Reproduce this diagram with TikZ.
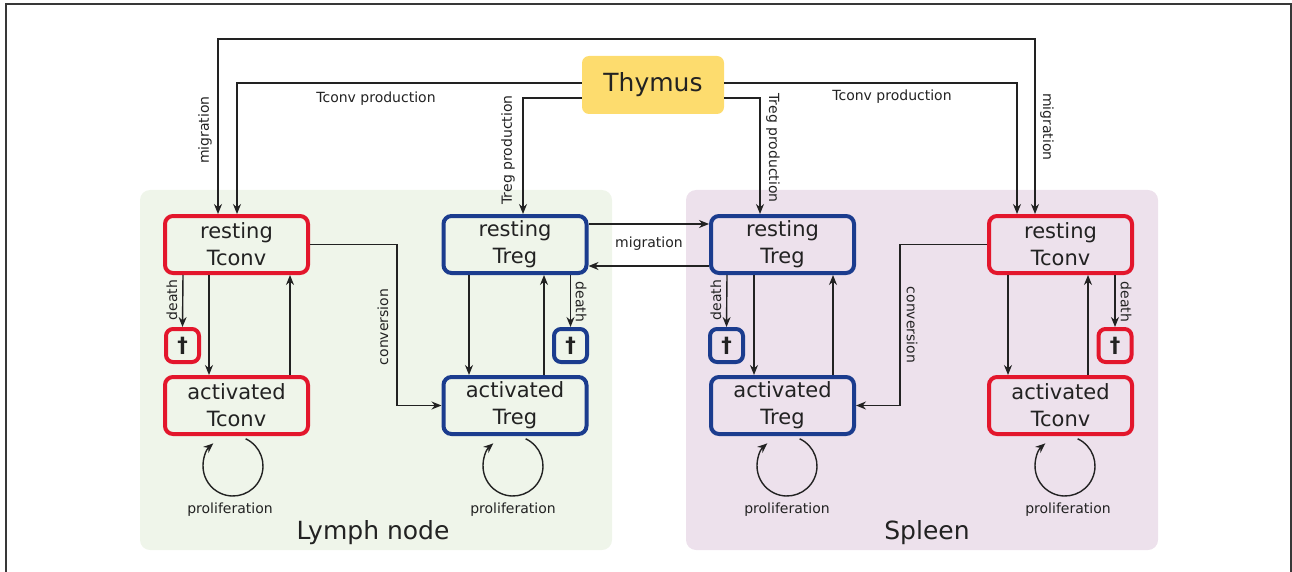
\documentclass[tikz,border=0pt]{standalone}
\usepackage{fontspec}
\setmainfont{DejaVu Sans}
\usetikzlibrary{arrows.meta}
\definecolor{cred}{HTML}{E3162C}
\definecolor{cblue}{HTML}{1B3C8E}
\definecolor{cgreen}{HTML}{EFF5EA}
\definecolor{cpurple}{HTML}{EDE1EC}
\definecolor{cyellow}{HTML}{FDDC6E}
\definecolor{cink}{HTML}{222222}
\tikzset{
 cell/.style={draw, line width=4pt, rounded corners=8pt, minimum width=143pt, minimum height=57pt, align=center, font=\fontsize{21}{27}\selectfont, text=cink, inner sep=0pt},
 redcell/.style={cell, draw=cred},
 bluecell/.style={cell, draw=cblue},
 dag/.style={draw, line width=4pt, rounded corners=7pt, minimum width=33pt, minimum height=33pt, inner sep=0pt, font=\fontsize{21}{21}\selectfont\bfseries, text=cink},
 arr/.style={draw=cink, line width=1.4pt, -{Stealth[length=10pt,width=8pt]}},
 arrboth/.style={draw=cink, line width=1.4pt, {Stealth[length=10pt,width=8pt]}-{Stealth[length=10pt,width=8pt]}},
 lbl/.style={font=\fontsize{14}{15}\selectfont, text=cink, inner sep=1pt},
 region/.style={rounded corners=10pt},
 big/.style={font=\fontsize{25}{28}\selectfont, text=cink, inner sep=0pt}
}
\begin{document}
\begin{tikzpicture}[x=1pt,y=-1pt]
\useasboundingbox (0,0) rectangle (1292,572);
% frame
\draw[line width=2pt, color=cink!90] (6,575) -- (6,4.5) -- (1290.5,4.5) -- (1290.5,575);
% regions
\fill[cgreen, region] (140,190) rectangle (612,550);
\fill[cpurple, region] (686,190) rectangle (1158,550);
\node[big] (lnname) at (373,533) {Lymph node};
\node[big] (spname) at (927,533) {Spleen};
% thymus
\node[fill=cyellow, rounded corners=7pt, minimum width=142pt, minimum height=58pt, inner sep=0pt, font=\fontsize{25}{28}\selectfont, text=cink] (thy) at (653,85) {Thymus};
% cells
\node[redcell] (lrc) at (236.5,244.5) {resting\\Tconv};
\node[redcell] (lac) at (236.5,405.5) {activated\\Tconv};
\node[bluecell] (lrg) at (515,244.5) {resting\\Treg};
\node[bluecell] (lag) at (515,405.5) {activated\\Treg};
\node[bluecell] (srg) at (782.5,244.5) {resting\\Treg};
\node[bluecell] (sag) at (782.5,405.5) {activated\\Treg};
\node[redcell] (src) at (1060.5,244.5) {resting\\Tconv};
\node[redcell] (sac) at (1060.5,405.5) {activated\\Tconv};
\node[dag, draw=cred] (ldr) at (182.5,345.5) {†};
\node[dag, draw=cblue] (ldb) at (570.5,345.5) {†};
\node[dag, draw=cblue] (sdb) at (726.5,345.5) {†};
\node[dag, draw=cred] (sdr) at (1115,345.5) {†};
% coordinates
\coordinate (mtop) at (627,39);
\coordinate (cvL) at (397,325);
\coordinate (cvS) at (900,325);
% migration Tconv
\draw[arrboth] ([xshift=-18.5pt]lrc.north) |- (mtop) -| ([xshift=-25.5pt]src.north);
\node[lbl, rotate=90] (lmig) at (205,130) {migration};
\node[lbl, rotate=-90] (rmig) at (1047,127) {migration};
% thymus production
\draw[arr] ([yshift=2pt]thy.west) -| ([xshift=0.5pt]lrc.north);
\draw[arr] ([yshift=-13pt]thy.west) -| ([xshift=8pt]lrg.north);
\draw[arr] ([yshift=-13pt]thy.east) -| ([xshift=-22.5pt]srg.north);
\draw[arr] ([yshift=2pt]thy.east) -| ([xshift=-43.5pt]src.north);
\node[lbl] (ltp) at (376,99) {Tconv production};
\node[lbl] (rtp) at (892,97) {Tconv production};
\node[lbl, rotate=90] (lgp) at (508,150) {Treg production};
\node[lbl, rotate=-90] (rgp) at (773,148) {Treg production};
% Treg migration
\draw[arr] ([yshift=20.5pt]lrg.east) -- ([yshift=20.5pt]srg.west);
\draw[arr] ([yshift=-21.5pt]srg.west) -- ([yshift=-21.5pt]lrg.east);
\node[lbl] (tmig) at (649,244) {migration};
% LN Tconv
\draw[arr] ([xshift=-53.5pt]lrc.south) -- (ldr.north);
\draw[arr] ([xshift=-27.5pt]lrc.south) -- ([xshift=-27.5pt]lac.north);
\draw[arr] ([xshift=53.5pt]lac.north) -- ([xshift=53.5pt]lrc.south);
\node[lbl, rotate=90] (d1) at (172,300) {death};
% LN Treg
\draw[arr] ([xshift=-46pt]lrg.south) -- ([xshift=-46pt]lag.north);
\draw[arr] ([xshift=29pt]lag.north) -- ([xshift=29pt]lrg.south);
\draw[arr] ([xshift=55.5pt]lrg.south) -- (ldb.north);
\node[lbl, rotate=-90] (d2) at (581,302) {death};
% Spleen Treg
\draw[arr] ([xshift=-55.5pt]srg.south) -- (sdb.north);
\draw[arr] ([xshift=-28.5pt]srg.south) -- ([xshift=-28.5pt]sag.north);
\draw[arr] ([xshift=50.5pt]sag.north) -- ([xshift=50.5pt]srg.south);
\node[lbl, rotate=90] (d3) at (716,300) {death};
% Spleen Tconv
\draw[arr] ([xshift=-52.5pt]src.south) -- ([xshift=-52.5pt]sac.north);
\draw[arr] ([xshift=27.5pt]sac.north) -- ([xshift=27.5pt]src.south);
\draw[arr] ([xshift=54.5pt]src.south) -- (sdr.north);
\node[lbl, rotate=-90] (d4) at (1126,302) {death};
% conversion
\draw[arr] (lrc.east) -| (cvL) |- (lag.west);
\node[lbl, rotate=90] (cv1) at (383,327) {conversion};
\draw[arr] (src.west) -| (cvS) |- (sag.east);
\node[lbl, rotate=-90] (cv2) at (912,325) {conversion};
% proliferation loops
\coordinate (p1) at ([xshift=-3.5pt,yshift=-30pt]lac.south);
\coordinate (p2) at ([xshift=-2pt,yshift=-30pt]lag.south);
\coordinate (p3) at ([xshift=4.5pt,yshift=-30pt]sag.south);
\coordinate (p4) at ([xshift=4.5pt,yshift=-30pt]sac.south);
\foreach \p in {p1,p2,p3,p4}{
  \draw[arr] (\p) ++(-65:30) arc[start angle=-65, end angle=229, radius=30];
}
\node[lbl] (pl1) at (230,510) {proliferation};
\node[lbl] (pl2) at (513,510) {proliferation};
\node[lbl] (pl3) at (787,510) {proliferation};
\node[lbl] (pl4) at (1068,510) {proliferation};
\end{tikzpicture}
\end{document}
